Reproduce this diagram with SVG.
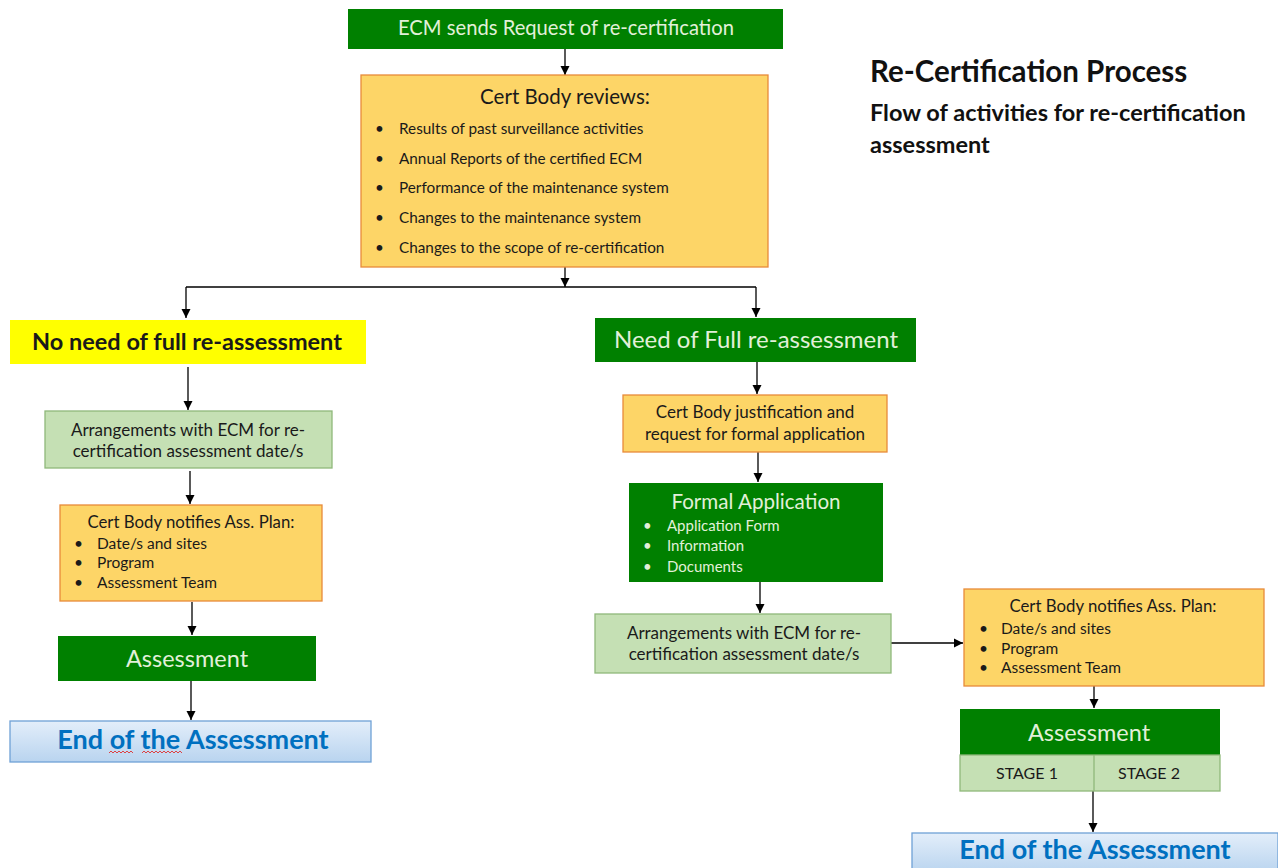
<svg xmlns="http://www.w3.org/2000/svg" width="1278" height="868" viewBox="0 0 1278 868">
<style>
text{font-family:Lato,"Liberation Sans",Arial,sans-serif}
.g{fill:#008000}
.gt{fill:#e2f0d9;text-anchor:middle}
.o{fill:#fdd567;stroke:#e88b3a;stroke-width:1.3}
.lg{fill:#c5e0b4;stroke:#8fb87a;stroke-width:1.3}
.bl{fill:url(#bg);stroke:#6fa1d6;stroke-width:1.3}
.dk{fill:#1a1a1a}
.c{text-anchor:middle}
.bt{fill:#0070c0;font-weight:bold;font-size:27px;text-anchor:middle}
.ln{stroke:#000;stroke-width:1.3;fill:none}
.ar{stroke:#000;stroke-width:1.3;fill:none;marker-end:url(#ah)}
</style>
<defs>
<marker id="ah" markerWidth="10" markerHeight="10" refX="9" refY="5" orient="auto" markerUnits="userSpaceOnUse"><path d="M0,0.5 L9,5 L0,9.5 Z" fill="#000"/></marker>
<linearGradient id="bg" x1="0" y1="0" x2="0" y2="1"><stop offset="0" stop-color="#e3eefa"/><stop offset="1" stop-color="#b9d4ef"/></linearGradient>
</defs>
<rect width="1278" height="868" fill="#fff"/>

<g id="title">
<text x="870" y="82" font-size="29.5" font-weight="bold" fill="#111">Re-Certification Process</text>
<text x="870" y="121" font-size="23.5" font-weight="bold" fill="#111">Flow of activities for re-certification</text>
<text x="870" y="153" font-size="23.5" font-weight="bold" fill="#111">assessment</text>
</g>

<g id="connectors">
<line class="ar" x1="565" y1="49" x2="565" y2="75"/>
<line class="ar" x1="565" y1="267" x2="565" y2="287"/>
<polyline class="ln" points="186,287 756,287"/>
<line class="ar" x1="186" y1="287" x2="186" y2="318"/>
<line class="ar" x1="756" y1="287" x2="756" y2="317"/>
<line class="ar" x1="188" y1="367" x2="188" y2="410"/>
<line class="ar" x1="190" y1="471" x2="190" y2="504"/>
<line class="ar" x1="192" y1="602" x2="192" y2="635"/>
<line class="ar" x1="191" y1="681" x2="191" y2="720"/>
<line class="ar" x1="757" y1="362" x2="757" y2="394"/>
<line class="ar" x1="758" y1="452" x2="758" y2="482"/>
<line class="ar" x1="760" y1="582" x2="760" y2="613"/>
<line class="ar" x1="891" y1="643" x2="963" y2="643"/>
<line class="ar" x1="1094" y1="686" x2="1094" y2="708"/>
<line class="ar" x1="1093" y1="791" x2="1093" y2="832"/>
</g>

<g id="n-ecm">
<rect class="g" x="348" y="9" width="435" height="40"/>
<text class="gt" x="566" y="35" font-size="20.2">ECM sends Request of re-certification</text>
</g>

<g id="n-reviews">
<rect class="o" x="361" y="75" width="407" height="192"/>
<text class="dk c" x="565" y="104" font-size="20.5">Cert Body reviews:</text>
<g font-size="15.3" class="dk">
<text x="375" y="134">•</text><text x="399" y="134">Results of past surveillance activities</text>
<text x="375" y="164">•</text><text x="399" y="164">Annual Reports of the certified ECM</text>
<text x="375" y="193">•</text><text x="399" y="193">Performance of the maintenance system</text>
<text x="375" y="223">•</text><text x="399" y="223">Changes to the maintenance system</text>
<text x="375" y="253">•</text><text x="399" y="253">Changes to the scope of re-certification</text>
</g>
</g>

<g id="n-noneed">
<rect x="10" y="320" width="356" height="44" fill="#ffff00"/>
<text x="187" y="350" font-size="23.5" font-weight="bold" class="dk c">No need of full re-assessment</text>
</g>

<g id="n-arr-left">
<rect class="lg" x="45" y="411" width="287" height="57"/>
<text class="dk c" x="188" y="436" font-size="17">Arrangements with ECM for re-</text>
<text class="dk c" x="188" y="457" font-size="17">certification assessment date/s</text>
</g>

<g id="n-notify-left">
<rect class="o" x="60" y="505" width="262" height="96"/>
<text class="dk c" x="191" y="528" font-size="16.8">Cert Body notifies Ass. Plan:</text>
<g font-size="15.5" class="dk">
<text x="74" y="549">•</text><text x="97" y="549">Date/s and sites</text>
<text x="74" y="568">•</text><text x="97" y="568">Program</text>
<text x="74" y="588">•</text><text x="97" y="588">Assessment Team</text>
</g>
</g>

<g id="n-assess-left">
<rect class="g" x="58" y="636" width="258" height="45"/>
<text class="gt" x="187" y="667" font-size="23.5">Assessment</text>
</g>

<g id="n-end-left">
<rect class="bl" x="10" y="721" width="361" height="41"/>
<text class="bt" x="193" y="749">End of the Assessment</text>
<path d="M109,753 l2,-2 l2,2 l2,-2 l2,2 l2,-2 l2,2 l2,-2 l2,2 l2,-2 l2,2 l2,-2 l2,2 M142,753 l2,-2 l2,2 l2,-2 l2,2 l2,-2 l2,2 l2,-2 l2,2 l2,-2 l2,2 l2,-2 l2,2 l2,-2 l2,2 l2,-2 l2,2 l2,-2 l2,2 l2,-2 l2,2" fill="none" stroke="#e03030" stroke-width="0.9"/>
</g>

<g id="n-need">
<rect class="g" x="595" y="318" width="321" height="44"/>
<text class="gt" x="756" y="348" font-size="24">Need of Full re-assessment</text>
</g>

<g id="n-justify">
<rect class="o" x="623" y="395" width="264" height="57"/>
<text class="dk c" x="755" y="418" font-size="17">Cert Body justification and</text>
<text class="dk c" x="755" y="440" font-size="17">request for formal application</text>
</g>

<g id="n-formal">
<rect class="g" x="629" y="483" width="254" height="99"/>
<text class="gt" x="756" y="509" font-size="20.6">Formal Application</text>
<g font-size="15" fill="#e2f0d9">
<text x="643" y="531">•</text><text x="667" y="531">Application Form</text>
<text x="643" y="551">•</text><text x="667" y="551">Information</text>
<text x="643" y="572">•</text><text x="667" y="572">Documents</text>
</g>
</g>

<g id="n-arr-right">
<rect class="lg" x="595" y="614" width="296" height="59"/>
<text class="dk c" x="744" y="639" font-size="17">Arrangements with ECM for re-</text>
<text class="dk c" x="744" y="660" font-size="17">certification assessment date/s</text>
</g>

<g id="n-notify-right">
<rect class="o" x="964" y="589" width="300" height="97"/>
<text class="dk c" x="1113" y="612" font-size="16.8">Cert Body notifies Ass. Plan:</text>
<g font-size="15.5" class="dk">
<text x="979" y="634">•</text><text x="1001" y="634">Date/s and sites</text>
<text x="979" y="654">•</text><text x="1001" y="654">Program</text>
<text x="979" y="673">•</text><text x="1001" y="673">Assessment Team</text>
</g>
</g>

<g id="n-assess-right">
<rect class="g" x="960" y="709" width="260" height="46"/>
<text class="gt" x="1089" y="741" font-size="23.5">Assessment</text>
<rect class="lg" x="960" y="755" width="260" height="36"/>
<line x1="1094" y1="755" x2="1094" y2="791" stroke="#8fb87a" stroke-width="1.3"/>
<text class="dk c" x="1027" y="779" font-size="16">STAGE 1</text>
<text class="dk c" x="1149" y="779" font-size="16">STAGE 2</text>
</g>

<g id="n-end-right">
<rect class="bl" x="912" y="833" width="366" height="40"/>
<text class="bt" x="1095" y="859">End of the Assessment</text>
</g>
</svg>
